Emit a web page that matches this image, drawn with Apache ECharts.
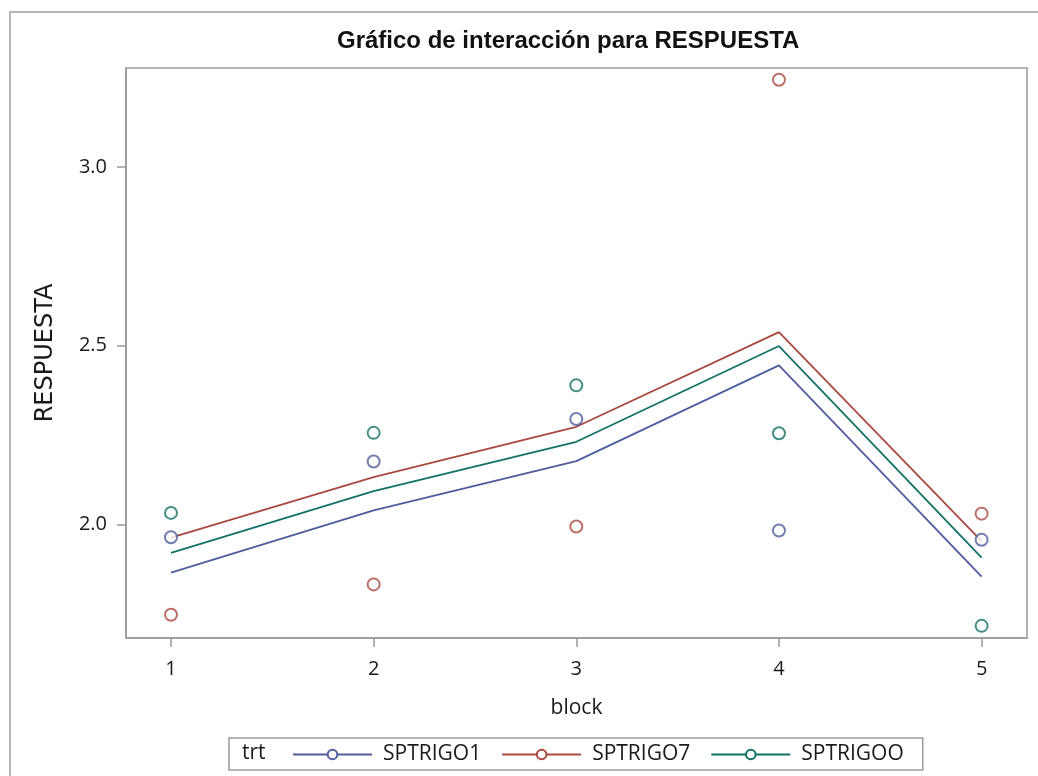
<!DOCTYPE html>
<html>
<head>
<meta charset="utf-8">
<script src="https://cdn.jsdelivr.net/npm/echarts@6/dist/echarts.min.js"></script>
<style>
  html, body { margin: 0; padding: 0; background: #fff; }
  #chart { width: 1038px; height: 776px; }
</style>
</head>
<body>
<div id="chart"></div>
<script>
// bloques (eje x)
var blocks = [1, 2, 3, 4, 5];
var yTicks = [2.0, 2.5, 3.0];
var treatments = ["SPTRIGO1", "SPTRIGO7", "SPTRIGOO"];
// observaciones (círculos)
var obsTrigo1 = [1.964, 2.176, 2.295, 1.983, 1.957];
var obsTrigo7 = [1.747, 1.832, 1.994, 3.244, 2.030];
var obsTrigoO = [2.032, 2.256, 2.389, 2.255, 1.716];
// valores ajustados (líneas)
var fitTrigo1 = [1.865, 2.039, 2.177, 2.445, 1.854];
var fitTrigo7 = [1.963, 2.132, 2.273, 2.538, 1.953];
var fitTrigoO = [1.920, 2.093, 2.231, 2.499, 1.907];

var colors = ["#4f5c9e", "#a94a40", "#137267"];
var obsList = [obsTrigo1, obsTrigo7, obsTrigoO];
var fitList = [fitTrigo1, fitTrigo7, fitTrigoO];

function pairs(vals) {
  return blocks.map(function (b, i) { return [b, vals[i]]; });
}

var series = [];
treatments.forEach(function (name, k) {
  series.push({
    name: name,
    type: "line",
    data: pairs(fitList[k]),
    symbol: "emptyCircle",
    symbolSize: 9,
    showSymbol: false,
    lineStyle: { color: colors[k], width: 1.8 },
    itemStyle: { color: colors[k], borderWidth: 1.5 },
    z: 2
  });
});
treatments.forEach(function (name, k) {
  series.push({
    name: name,
    type: "scatter",
    data: pairs(obsList[k]),
    symbol: "emptyCircle",
    symbolSize: 12,
    itemStyle: { color: colors[k], borderWidth: 1.6 },
    z: 3
  });
});

var labelFont = "'Open Sans', 'DejaVu Sans', sans-serif";
var grayLine = "#9a9a9a";

var option = {
  animation: false,
  backgroundColor: "#fff",
  title: {
    text: "Gráfico de interacción para RESPUESTA",
    left: 337,
    top: 29,
    padding: 0,
    textStyle: {
      fontFamily: "'Liberation Sans', Arial, sans-serif",
      fontWeight: "bold",
      fontSize: 24,
      color: "#111"
    }
  },
  grid: {
    left: 126,
    right: 11,
    top: 68,
    bottom: 138,
    show: true,
    borderColor: grayLine,
    borderWidth: 1.5
  },
  xAxis: {
    type: "value",
    min: 0.778,
    max: 5.224,
    name: "block",
    nameLocation: "middle",
    nameGap: 60,
    nameTextStyle: { fontFamily: labelFont, fontSize: 21, color: "#1a1a1a" },
    axisLine: { lineStyle: { color: grayLine, width: 1.5 } },
    axisTick: { show: true, length: 9, customValues: blocks, lineStyle: { color: grayLine, width: 1.5 } },
    axisLabel: {
      customValues: blocks,
      margin: 21,
      fontFamily: labelFont,
      fontSize: 20,
      color: "#1a1a1a"
    },
    splitLine: { show: false }
  },
  yAxis: {
    type: "value",
    min: 1.682,
    max: 3.277,
    name: "RESPUESTA",
    nameLocation: "middle",
    nameGap: 68,
    nameTextStyle: { fontFamily: "'DejaVu Sans', sans-serif", fontSize: 24, color: "#1a1a1a" },
    axisLine: { show: true, lineStyle: { color: grayLine, width: 1.5 } },
    axisTick: { show: true, length: 9, customValues: yTicks, lineStyle: { color: grayLine, width: 1.5 } },
    axisLabel: {
      customValues: yTicks,
      margin: 19,
      fontFamily: labelFont,
      fontSize: 20,
      color: "#1a1a1a",
      formatter: function (v) { return v.toFixed(1); }
    },
    splitLine: { show: false }
  },
  legend: {
    data: treatments,
    left: 229,
    top: 738,
    orient: "horizontal",
    itemWidth: 79,
    itemHeight: 12,
    itemGap: 20,
    padding: [6, 19, 5, 63],
    borderColor: grayLine,
    borderWidth: 1.5,
    textStyle: { fontFamily: labelFont, fontSize: 21, color: "#1a1a1a", padding: [0, 0, 0, 6] }
  },
  graphic: [
    {
      type: "rect",
      shape: { x: 10, y: 12, width: 1045, height: 790 },
      style: { fill: "none", stroke: "#b5b5b5", lineWidth: 2 },
      silent: true,
      z: -10
    },
    {
      type: "text",
      left: 242,
      top: 743,
      style: { text: "trt", fontFamily: labelFont, fontSize: 21, fill: "#1a1a1a" }
    }
  ],
  series: series
};

var chart = echarts.init(document.getElementById("chart"));
chart.setOption(option);
</script>
</body>
</html>
